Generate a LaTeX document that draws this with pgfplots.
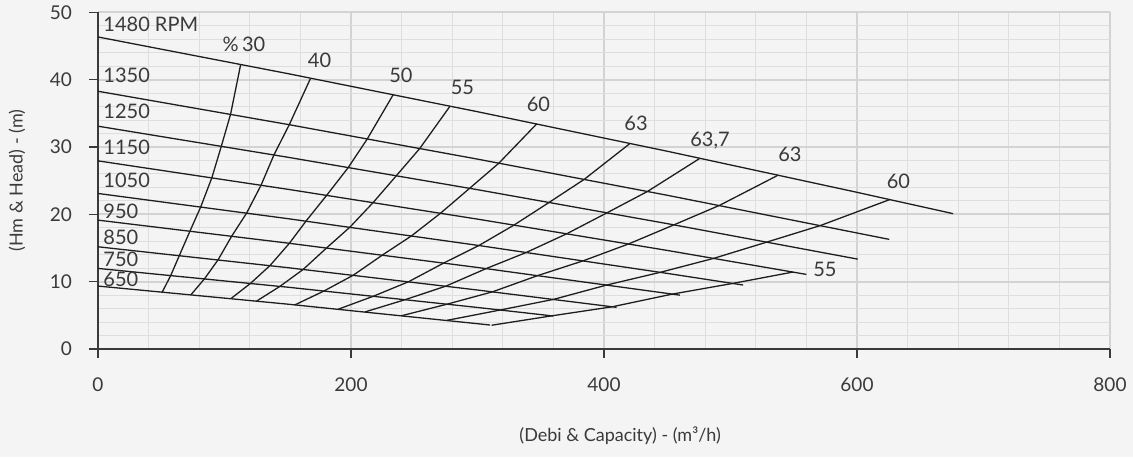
\documentclass[border=0pt]{standalone}
\usepackage{fontspec}
\setmainfont{Lato}
\usepackage{pgfplots}
\pgfplotsset{compat=1.18}
\definecolor{bgc}{HTML}{F4F4F4}
\definecolor{gmaj}{HTML}{D3D3D3}
\definecolor{gmin}{HTML}{DEDEDE}
\definecolor{txt}{HTML}{3A3A3A}
\definecolor{crv}{HTML}{1E1E1E}
\definecolor{axc}{HTML}{3A3A3A}
\pgfplotsset{crv/.style={draw=crv, line width=0.65pt, solid, mark=none, line join=round}}
\begin{document}
\begin{tikzpicture}
\path[use as bounding box, fill=bgc] (-49pt,-54pt) rectangle (517.5pt,174.5pt);
\begin{axis}[
  at={(0,0)}, anchor=south west,
  scale only axis, width=506pt, height=168.35pt,
  xmin=0, xmax=800, ymin=0, ymax=50,
  xtick={0,200,400,600,800}, ytick={0,10,20,30,40,50},
  minor x tick num=4, minor y tick num=4,
  grid=both,
  major grid style={draw=gmaj, line width=0.9pt},
  minor grid style={draw=gmin, line width=0.5pt},
  axis x line*=bottom, axis y line*=left,
  axis line style={draw=axc, line width=0.75pt, -},
  xtick pos=left, ytick pos=left,
  tick align=outside,
  major tick length=4.5pt, minor tick length=0pt,
  major tick style={draw=axc, line width=0.6pt},
  /pgf/number format/assume math mode=true,
  tick label style={font=\fontsize{9.5}{11}\selectfont, text=txt},
  yticklabel style={xshift=-5pt},
  xticklabel style={yshift=-6.5pt},
  xlabel={(Debi \& Capacity) - (m³/h)},
  ylabel={(Hm \& Head) - (m)},
  label style={font=\fontsize{9}{11}\selectfont, text=txt},
  xlabel style={at={(axis description cs:0.516,-0.258)}, anchor=center},
  ylabel style={at={(axis description cs:-0.08,0.5)}, anchor=center},
  clip=false,
]
% speed lines
\addplot[crv] coordinates {(0,9.35)(150,6.66)(300,3.76)(310,3.56)};
\addplot[crv] coordinates {(0,11.97)(150,9.18)(300,6.17)(360,4.90)};
\addplot[crv] coordinates {(0,15.18)(150,12.08)(300,8.76)(410,6.19)};
\addplot[crv] coordinates {(0,19.14)(150,15.73)(300,12.11)(460,8.00)};
\addplot[crv] coordinates {(0,23.10)(150,19.36)(300,15.40)(450,11.23)(510,9.50)};
\addplot[crv] coordinates {(0,27.94)(150,23.72)(300,19.29)(450,14.64)(560,11.08)};
\addplot[crv] coordinates {(0,33.09)(150,28.48)(300,23.66)(450,18.62)(600.5,13.35)};
\addplot[crv] coordinates {(0,38.28)(150,33.35)(300,28.20)(450,22.83)(625.5,16.28)};
\addplot[crv] coordinates {(0,46.34)(150,40.90)(300,35.24)(450,29.37)(600,23.27)(676,20.10)};
% efficiency curves
\addplot[crv] coordinates {(50.8,8.46)(57.5,10.92)(64.3,13.88)(72.7,17.51)(81.2,21.10)(90.0,25.43)(97.5,30.12)(104.8,34.86)(112.8,42.27)};
\addplot[crv] coordinates {(73.5,8.06)(84.2,10.43)(94.9,13.24)(105.7,16.76)(117.5,20.19)(128.9,24.33)(139.1,28.83)(151.2,33.31)(168.1,40.23)};
\addplot[crv] coordinates {(105.1,7.49)(120.5,9.74)(135.9,12.38)(151.3,15.70)(164.4,18.99)(180.8,22.83)(197.9,26.97)(212.9,31.21)(233.4,37.78)};
\addplot[crv] coordinates {(125.4,7.12)(143.8,9.30)(162.2,11.82)(180.7,15.01)(199.1,18.09)(217.5,21.75)(235.9,25.75)(254.4,29.79)(278.3,36.07)};
\addplot[crv] coordinates {(155.7,6.56)(178.7,8.62)(201.8,10.96)(224.8,13.95)(247.8,16.80)(270.8,20.17)(293.8,23.87)(316.9,27.60)(346.8,33.43)};
\addplot[crv] coordinates {(189.9,5.91)(217.7,7.84)(245.5,9.99)(273.3,12.77)(301.1,15.37)(328.9,18.41)(356.7,21.78)(384.4,25.20)(420.6,30.53)};
\addplot[crv] coordinates {(211.1,5.51)(243.0,7.34)(274.9,9.33)(306.8,11.94)(338.7,14.35)(370.6,17.12)(402.5,20.24)(434.4,23.40)(475.9,28.33)};
\addplot[crv] coordinates {(240.1,4.95)(276.0,6.66)(311.8,8.49)(347.7,10.91)(383.6,13.10)(419.4,15.60)(455.3,18.44)(491.2,21.32)(537.8,25.83)};
\addplot[crv] coordinates {(275.7,4.25)(317.9,5.79)(360.1,7.37)(402.3,9.51)(444.5,11.39)(486.7,13.46)(528.9,15.89)(571.1,18.34)(626.0,22.20)};
\addplot[crv] coordinates {(311.2,3.53)(358.8,4.93)(406.5,6.27)(454.1,8.16)(501.8,9.74)(549.4,11.43)};
% speed labels
\begin{scope}[every node/.style={font=\fontsize{10}{12}\selectfont, text=txt, inner sep=0pt}]
\node[anchor=west] at (axis cs:4,48.2) {1480 RPM};
\node[anchor=west] at (axis cs:4,40.65) {1350};
\node[anchor=west] at (axis cs:4,35.3) {1250};
\node[anchor=west] at (axis cs:4,29.9) {1150};
\node[anchor=west] at (axis cs:4,25.1) {1050};
\node[anchor=west] at (axis cs:4,20.5) {950};
\node[anchor=west] at (axis cs:4,16.6) {850};
\node[anchor=west] at (axis cs:4,13.3) {750};
\node[anchor=west] at (axis cs:4,10.4) {650};
% efficiency labels
\node at (axis cs:115.4,45.2) {\%\,30};
\node at (axis cs:175.1,42.9) {40};
\node at (axis cs:239.5,40.7) {50};
\node at (axis cs:288.1,38.8) {55};
\node at (axis cs:348.2,36.4) {60};
\node at (axis cs:425.3,33.5) {63};
\node at (axis cs:483.8,31.0) {63,7};
\node at (axis cs:547.0,28.9) {63};
\node at (axis cs:632.8,24.85) {60};
\node at (axis cs:574.7,11.8) {55};
\end{scope}
\end{axis}
\end{tikzpicture}
\end{document}
